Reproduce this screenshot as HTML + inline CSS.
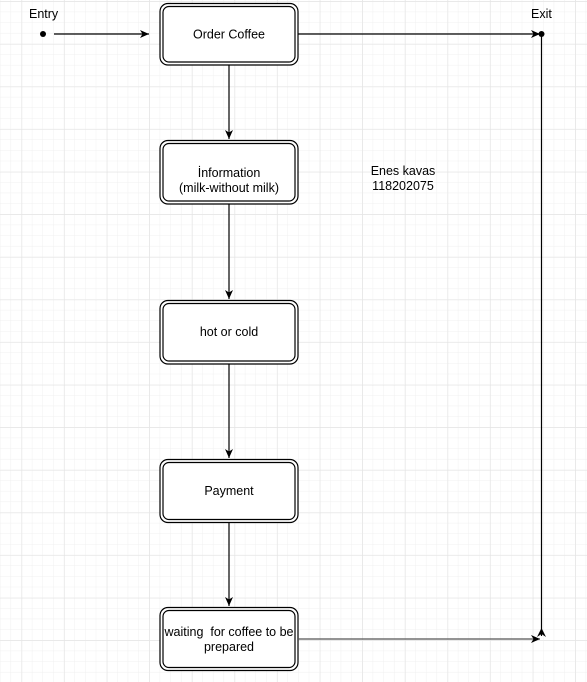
<!DOCTYPE html>
<html><head><meta charset="utf-8"><style>
html,body{margin:0;padding:0;background:#fff;}
svg{display:block;}
text{font-family:"Liberation Sans",Arial,sans-serif;font-size:12.5px;fill:#000;white-space:pre;}
</style></head><body>
<svg width="587" height="682" viewBox="0 0 587 682" xmlns="http://www.w3.org/2000/svg">
<defs>
<pattern id="minor" x="0.4" y="1.5" width="10.65" height="10.65" patternUnits="userSpaceOnUse">
<path d="M10.65 0V10.65M0 10.65H10.65" fill="none" stroke="#f0f0f0" stroke-width="1"/>
</pattern>
<pattern id="major" x="21.7" y="1.5" width="42.6" height="42.6" patternUnits="userSpaceOnUse">
<path d="M0 0V42.6M0 0H42.6" fill="none" stroke="#e2e2e2" stroke-width="1"/>
</pattern>
<marker id="ar" markerWidth="10" markerHeight="10" refX="9" refY="5" orient="auto" markerUnits="userSpaceOnUse">
<path d="M0 1 L9 5 L0 9 L2.5 5 Z" fill="#000"/>
</marker>
</defs>
<rect width="587" height="682" fill="#fff"/>
<rect width="587" height="682" fill="url(#minor)"/>
<rect width="587" height="682" fill="url(#major)"/>

<g fill="#fff" stroke="#000" stroke-width="1.2">
<rect x="160" y="3.5" width="138" height="61.5" rx="8"/>
<rect x="163" y="6.5" width="132" height="55.5" rx="6"/>
<rect x="160" y="140.5" width="138" height="63.5" rx="8"/>
<rect x="163" y="143.5" width="132" height="57.5" rx="6"/>
<rect x="160" y="300.5" width="138" height="63.5" rx="8"/>
<rect x="163" y="303.5" width="132" height="57.5" rx="6"/>
<rect x="160" y="459.5" width="138" height="63" rx="8"/>
<rect x="163" y="462.5" width="132" height="57" rx="6"/>
<rect x="160" y="607.5" width="138" height="63" rx="8"/>
<rect x="163" y="610.5" width="132" height="57" rx="6"/>
</g>

<g stroke="#000" stroke-width="1.2" fill="none">
<line x1="54" y1="34" x2="149" y2="34" marker-end="url(#ar)"/>
<line x1="298" y1="34" x2="540" y2="34" marker-end="url(#ar)"/>
<line x1="229" y1="65" x2="229" y2="139" marker-end="url(#ar)"/>
<line x1="229" y1="204" x2="229" y2="299" marker-end="url(#ar)"/>
<line x1="229" y1="364" x2="229" y2="458" marker-end="url(#ar)"/>
<line x1="229" y1="523" x2="229" y2="606" marker-end="url(#ar)"/>
<line x1="298" y1="639" x2="540" y2="639" stroke="#555" marker-end="url(#ar)"/>
<line x1="541.5" y1="34" x2="541.5" y2="636"/>
</g>
<path d="M537 637 L541.5 628 L546 637 L541.5 634 Z" fill="#000"/>
<circle cx="43" cy="34" r="3" fill="#000"/>
<circle cx="541.5" cy="34" r="3" fill="#000"/>

<text x="29" y="18">Entry</text>
<text x="531" y="18">Exit</text>
<text x="229" y="38.5" text-anchor="middle">Order Coffee</text>
<text x="229" y="177" text-anchor="middle">İnformation</text>
<text x="229" y="192" text-anchor="middle">(milk-without milk)</text>
<text x="229" y="336" text-anchor="middle">hot or cold</text>
<text x="229" y="495" text-anchor="middle">Payment</text>
<text x="229" y="636" text-anchor="middle" xml:space="preserve">waiting  for coffee to be</text>
<text x="229" y="651" text-anchor="middle">prepared</text>
<text x="403" y="175" text-anchor="middle">Enes kavas</text>
<text x="403" y="190" text-anchor="middle">118202075</text>
</svg>
</body></html>
